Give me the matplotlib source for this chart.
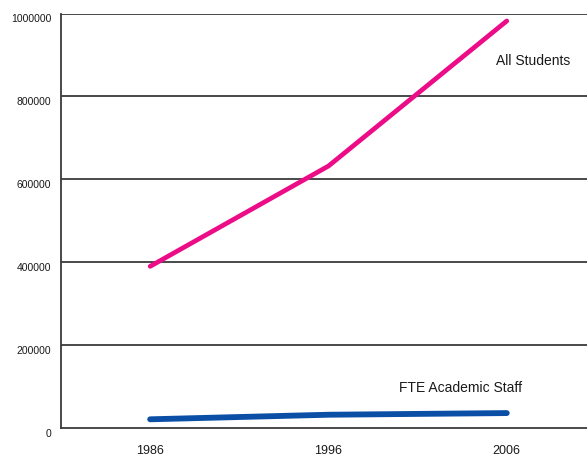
import matplotlib
matplotlib.use("Agg")
import matplotlib.pyplot as plt
import matplotlib.transforms as mtransforms

years = [1986, 1996, 2006]
all_students = [390000, 632000, 982000]
fte_staff = [21000, 32000, 36000]
y_ticks = [0, 200000, 400000, 600000, 800000, 1000000]
y_tick_labels = ["0", "200000", "400000", "600000", "800000", "1000000"]

plt.rcParams["font.family"] = ["Liberation Sans", "DejaVu Sans"]

W, H = 587, 457
fig = plt.figure(figsize=(W / 100, H / 100), dpi=100)
left, right, top, bottom = 61, 587, 13.5, 428
ax = fig.add_axes([left / W, 1 - bottom / H, (right - left) / W, (bottom - top) / H])

grid_color = "#3a3a3a"
text_color = "#1a1a1a"
ax.set_ylim(0, 1000000)
ax.set_xlim(1981.0, 2010.5)
for v in y_ticks[1:]:
    ax.axhline(v, color=grid_color, lw=1.3, zorder=1)

ax.plot(years, all_students, color="#EC0C87", lw=3.4, solid_capstyle="round", zorder=3)
ax.plot(years, fte_staff, color="#0B4EA6", lw=4.2, solid_capstyle="round", zorder=3)

ax.text(2009.55, 885000, "All Students", fontsize=10, ha="right", va="center", color=text_color)
ax.text(2003.4, 96500, "FTE Academic Staff", fontsize=10, ha="center", va="center", color=text_color)

for s in ["top", "right"]:
    ax.spines[s].set_visible(False)
for s in ["left", "bottom"]:
    ax.spines[s].set_color(grid_color)
    ax.spines[s].set_linewidth(1.3)

ax.set_yticks(y_ticks)
ax.set_yticklabels(y_tick_labels, fontsize=7.5, color=text_color)
ax.set_xticks(years)
ax.set_xticklabels([str(y) for y in years], fontsize=9, color=text_color)
ax.tick_params(axis="both", length=0)
ax.tick_params(axis="y", pad=7)
ax.tick_params(axis="x", pad=12.5)

offset = mtransforms.ScaledTranslation(0, -5 / 100, fig.dpi_scale_trans)
for lbl in ax.get_yticklabels():
    lbl.set_transform(lbl.get_transform() + offset)

fig.savefig("out.png", dpi=100)
